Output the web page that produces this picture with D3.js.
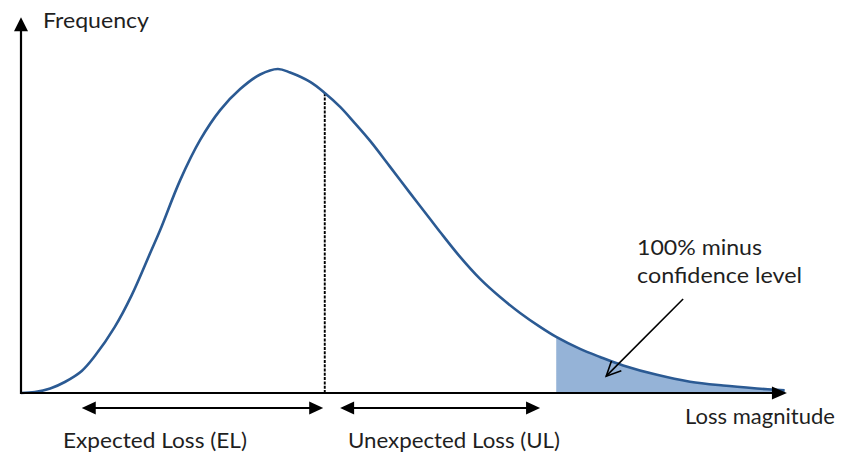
<!DOCTYPE html>
<html><head><meta charset="utf-8">
<script src="https://cdn.jsdelivr.net/npm/d3@7"></script>
<style>
body{margin:0;background:#fff}
svg text{font-family:Lato,"Open Sans",sans-serif;fill:#1f1f1f;font-size:21.5px}
</style>
</head><body>
<svg id="chart" width="847" height="454"></svg>
<script>
// Loss distribution (arbitrary units, peak frequency = 1)
const lossMagnitude = [0,0.18,0.38,0.57,0.79,0.96,1.22,1.44,1.68,1.81,2.07,2.33,2.59,2.85,3.11,3.34,3.50,3.76,3.95,4.15,4.34,4.54,4.80,5.06,5.32,5.45,5.71,5.97,6.23,6.49,6.75,6.96,7.27,7.53,7.83,8.27,8.70,9.13,9.57,9.93];
const frequency     = [0,0.003,0.014,0.034,0.068,0.114,0.204,0.302,0.432,0.503,0.657,0.781,0.873,0.938,0.983,1.000,0.989,0.960,0.926,0.883,0.833,0.778,0.698,0.617,0.537,0.497,0.420,0.352,0.296,0.247,0.204,0.173,0.136,0.111,0.085,0.056,0.035,0.023,0.014,0.008];
const expectedLoss = 3.95;
const confidenceThreshold = 6.96;
const rangeLabels = ["Expected Loss (EL)", "Unexpected Loss (UL)"];
const rangeExtents = [[0.79, 3.93], [4.15, 6.75]];
const axisTitles = ["Loss magnitude", "Frequency"];
const axisMax = [9.96, 1.16];
const noteLines = ["100% minus", "confidence level"];
const notePointer = [[8.61, 0.29], [7.61, 0.052]];

const svg = d3.select("#chart");
const x = d3.scaleLinear().domain([0, 10]).range([21, 790]);
const y = d3.scaleLinear().domain([0, 1]).range([393, 69]);
const pts = lossMagnitude.map((v, i) => ({x: v, y: frequency[i]}));
const curve = d3.curveCatmullRom.alpha(0.5);

// tail area
const tail = pts.filter(d => d.x >= confidenceThreshold);
svg.append("path")
  .attr("d", d3.area().x(d => x(d.x)).y0(y(0)).y1(d => y(d.y)).curve(curve)(tail))
  .attr("fill", "#95B3D7");

// EL dashed line
const elIdx = lossMagnitude.indexOf(expectedLoss);
svg.append("line")
  .attr("x1", x(expectedLoss)).attr("x2", x(expectedLoss))
  .attr("y1", y(0)).attr("y2", y(frequency[elIdx]))
  .attr("stroke", "#000").attr("stroke-width", 1.9).attr("stroke-dasharray", "3,1.3");

// curve
svg.append("path")
  .attr("d", d3.line().x(d => x(d.x)).y(d => y(d.y)).curve(curve)(pts))
  .attr("fill", "none").attr("stroke", "#2B5A93").attr("stroke-width", 2.6);

// axes with arrowheads
const x0 = x(0), y0 = y(0);
const xTip = x(axisMax[0]), yTip = y(axisMax[1]);
svg.append("line").attr("x1", x0 - 1).attr("x2", xTip - 8).attr("y1", y0).attr("y2", y0)
  .attr("stroke", "#000").attr("stroke-width", 2.2);
svg.append("line").attr("x1", x0).attr("x2", x0).attr("y1", y0 + 1).attr("y2", yTip + 8)
  .attr("stroke", "#000").attr("stroke-width", 2.2);
svg.append("path").attr("d", `M${xTip},${y0} L${xTip - 15},${y0 - 6.5} L${xTip - 15},${y0 + 6.5} Z`).attr("fill", "#000");
svg.append("path").attr("d", `M${x0},${yTip} L${x0 - 7},${yTip + 14} L${x0 + 7},${yTip + 14} Z`).attr("fill", "#000");

// double-headed range arrows
const arrowY = y0 + 15;
rangeExtents.forEach(([a, b]) => {
  const xa = x(a), xb = x(b);
  svg.append("line").attr("x1", xa + 10).attr("x2", xb - 10).attr("y1", arrowY).attr("y2", arrowY)
    .attr("stroke", "#000").attr("stroke-width", 2);
  svg.append("path").attr("d", `M${xa},${arrowY} L${xa + 14},${arrowY - 6.5} L${xa + 14},${arrowY + 6.5} Z`).attr("fill", "#000");
  svg.append("path").attr("d", `M${xb},${arrowY} L${xb - 14},${arrowY - 6.5} L${xb - 14},${arrowY + 6.5} Z`).attr("fill", "#000");
});

// labels
function label(txt, px, py, len) {
  svg.append("text").attr("x", px).attr("y", py)
    .attr("textLength", len).attr("lengthAdjust", "spacingAndGlyphs").text(txt);
}
label(rangeLabels[0], 63, 448, 184);
label(rangeLabels[1], 348, 448, 212);
label(axisTitles[0], 685, 424, 150);
label(axisTitles[1], 43, 28, 106);
label(noteLines[0], 637, 255, 125);
label(noteLines[1], 637, 283, 165);

// pointer arrow (open head)
const [p0, p1] = notePointer.map(d => [x(d[0]), y(d[1])]);
svg.append("line").attr("x1", p0[0]).attr("y1", p0[1]).attr("x2", p1[0]).attr("y2", p1[1])
  .attr("stroke", "#000").attr("stroke-width", 1.6);
const ang = Math.atan2(p1[1] - p0[1], p1[0] - p0[0]);
const hl = 16, ha = 0.45;
const w1 = [p1[0] - hl * Math.cos(ang - ha), p1[1] - hl * Math.sin(ang - ha)];
const w2 = [p1[0] - hl * Math.cos(ang + ha), p1[1] - hl * Math.sin(ang + ha)];
svg.append("path").attr("d", `M${w1[0]},${w1[1]} L${p1[0]},${p1[1]} L${w2[0]},${w2[1]}`)
  .attr("fill", "none").attr("stroke", "#000").attr("stroke-width", 1.6);
</script>
</body></html>
